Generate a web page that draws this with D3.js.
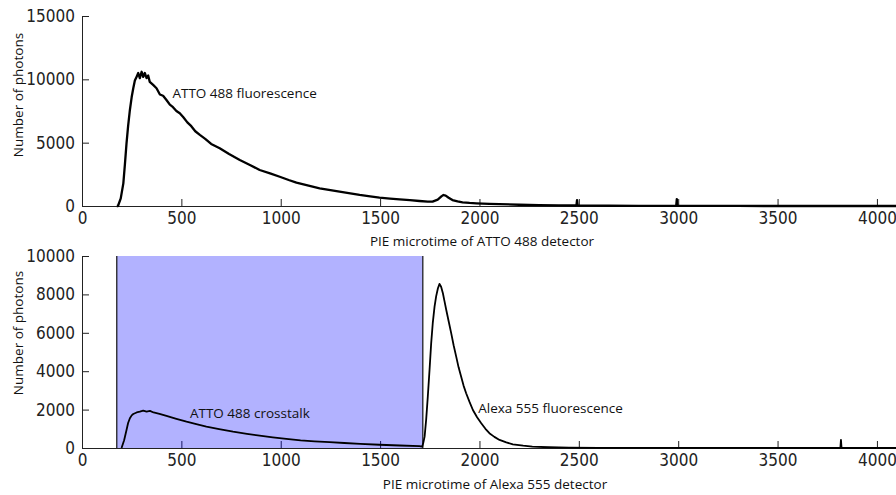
<!DOCTYPE html>
<html>
<head>
<meta charset="utf-8">
<script src="https://cdn.jsdelivr.net/npm/d3@7"></script>
<style>
  body { margin: 0; background: #fff; }
  svg { display: block; }
  .tick text { font-family: "Liberation Sans Narrow", "Arial Narrow", "DejaVu Sans Condensed", sans-serif; font-size: 17px; fill: #222; }
  .label { font-family: "Open Sans", "Noto Sans", sans-serif; font-size: 13.5px; fill: #111; }
</style>
</head>
<body>
<svg id="chart" width="896" height="495"></svg>
<script>
// x ticks shared by both panels
const xTicks = [0, 500, 1000, 1500, 2000, 2500, 3000, 3500, 4000];
const topYTicks = [0, 5000, 10000, 15000];
const bottomYTicks = [0, 2000, 4000, 6000, 8000, 10000];

// [microtime channel, photon count]
const attoDetector = [
  [175, 0], [181, 0], [195, 600], [208, 1790], [216, 3300], [224, 4950], [232, 6300],
  [241, 7580], [250, 8600], [258, 9300], [266, 9900], [275, 10210], [283, 10500],
  [291, 10100], [300, 10600], [308, 10200], [316, 10500], [325, 10100], [333, 10300],
  [341, 9800], [358, 9560], [375, 9300], [392, 8800], [408, 8700], [425, 8370],
  [442, 8000], [458, 7800], [475, 7500], [492, 7320], [510, 7000], [530, 6600],
  [550, 6300], [570, 5900], [593, 5610], [620, 5300], [650, 4900], [693, 4560],
  [740, 4100], [794, 3630], [850, 3200], [894, 2840], [950, 2550], [995, 2310],
  [1040, 2050], [1079, 1840], [1140, 1600], [1196, 1400], [1250, 1250], [1296, 1130],
  [1350, 1000], [1397, 870], [1450, 760], [1497, 660], [1550, 590], [1598, 530],
  [1650, 460], [1698, 395], [1740, 350], [1764, 340], [1790, 500], [1810, 780],
  [1819, 870], [1830, 820], [1845, 650], [1864, 470], [1890, 360], [1915, 290],
  [1950, 240], [1984, 210], [2050, 170], [2100, 150], [2200, 100], [2300, 70],
  [2400, 50], [2488, 40], [2491, 470], [2494, 40], [2550, 30], [2650, 20], [2800, 15],
  [2990, 10], [2993, 550], [2996, 10], [3100, 10], [3300, 5], [3500, 0], [4096, 0]
];

const alexaDetector = [
  [199, 0], [212, 400], [224, 940], [232, 1300], [241, 1550], [250, 1700], [258, 1770],
  [275, 1850], [291, 1890], [308, 1950], [325, 1900], [342, 1930], [360, 1850],
  [390, 1780], [425, 1670], [475, 1520], [526, 1370], [575, 1240], [626, 1110],
  [690, 980], [760, 850], [830, 740], [894, 640], [960, 550], [1028, 470], [1100, 400],
  [1170, 350], [1246, 310], [1320, 260], [1400, 220], [1497, 170], [1600, 130],
  [1698, 100], [1712, 70], [1718, 300], [1724, 590], [1732, 1500], [1740, 2670],
  [1749, 4100], [1757, 5450], [1765, 6500], [1774, 7360], [1782, 7900], [1791, 8320],
  [1799, 8550], [1807, 8400], [1816, 8060], [1824, 7650], [1833, 7190], [1845, 6600],
  [1858, 5970], [1870, 5350], [1883, 4760], [1895, 4200], [1908, 3710], [1920, 3250],
  [1933, 2850], [1950, 2400], [1967, 1980], [1988, 1600], [2009, 1290], [2030, 1000],
  [2050, 770], [2075, 580], [2101, 420], [2135, 290], [2168, 190], [2220, 120],
  [2266, 70], [2350, 40], [2450, 15], [2600, 5], [3816, 0], [3819, 420], [3822, 0], [4096, 0]
];

// shaded crosstalk window on the Alexa 555 detector
const crosstalkWindow = [175, 1715];

const svg = d3.select('#chart');

const x = d3.scaleLinear().domain([0, 4096]).range([82, 896]);
const yTop = d3.scaleLinear().domain([0, 15000]).range([206, 16]);
const yBottom = d3.scaleLinear().domain([0, 10000]).range([448, 256]);

function drawAxes(y, yTicks, baseline) {
  svg.append('g')
    .attr('transform', `translate(0,${baseline})`)
    .call(d3.axisBottom(x).tickValues(xTicks).tickFormat(d3.format('d'))
      .tickSizeInner(-7).tickSizeOuter(0).tickPadding(6))
    .call(g => g.selectAll('path, line').attr('stroke', '#222'));

  svg.append('g')
    .attr('transform', `translate(${x(0)},0)`)
    .call(d3.axisLeft(y).tickValues(yTicks).tickFormat(d3.format('d'))
      .tickSizeInner(-7).tickSizeOuter(0).tickPadding(7))
    .call(g => g.selectAll('path, line').attr('stroke', '#222'));
}

const line = d3.line().x(d => x(d[0]));

// top panel
drawAxes(yTop, topYTicks, yTop(0));

svg.append('path')
  .datum(attoDetector)
  .attr('fill', 'none')
  .attr('stroke', '#000')
  .attr('stroke-width', 2.3)
  .attr('stroke-linejoin', 'round')
  .attr('d', line.y(d => yTop(d[1])));

// bottom panel
drawAxes(yBottom, bottomYTicks, yBottom(0));

svg.append('rect')
  .attr('x', x(crosstalkWindow[0]))
  .attr('y', yBottom(10000))
  .attr('width', x(crosstalkWindow[1]) - x(crosstalkWindow[0]))
  .attr('height', yBottom(0) - yBottom(10000))
  .attr('fill', '#0000ff')
  .attr('fill-opacity', 0.3);

svg.selectAll('line.edge')
  .data(crosstalkWindow)
  .enter().append('line')
  .attr('class', 'edge')
  .attr('x1', d => x(d)).attr('x2', d => x(d))
  .attr('y1', yBottom(10000)).attr('y2', yBottom(0))
  .attr('stroke', '#111')
  .attr('stroke-width', 1.2);

svg.append('path')
  .datum(alexaDetector)
  .attr('fill', 'none')
  .attr('stroke', '#000')
  .attr('stroke-width', 1.8)
  .attr('stroke-linejoin', 'round')
  .attr('d', line.y(d => yBottom(d[1])));

// annotations
svg.append('text').attr('class', 'label')
  .attr('x', x(455)).attr('y', yTop(8500))
  .text('ATTO 488 fluorescence');
svg.append('text').attr('class', 'label')
  .attr('x', x(543)).attr('y', yBottom(1560))
  .text('ATTO 488 crosstalk');
svg.append('text').attr('class', 'label')
  .attr('x', x(1994)).attr('y', yBottom(1820))
  .text('Alexa 555 fluorescence');

// axis titles
svg.append('text').attr('class', 'label')
  .attr('text-anchor', 'middle')
  .attr('x', 482).attr('y', 246)
  .text('PIE microtime of ATTO 488 detector');
svg.append('text').attr('class', 'label')
  .attr('text-anchor', 'middle')
  .attr('x', 495).attr('y', 489)
  .text('PIE microtime of Alexa 555 detector');

svg.append('text').attr('class', 'label')
  .attr('text-anchor', 'middle')
  .attr('transform', 'translate(23,95) rotate(-90)')
  .text('Number of photons');
svg.append('text').attr('class', 'label')
  .attr('text-anchor', 'middle')
  .attr('transform', 'translate(23,333) rotate(-90)')
  .text('Number of photons');
</script>
</body>
</html>
